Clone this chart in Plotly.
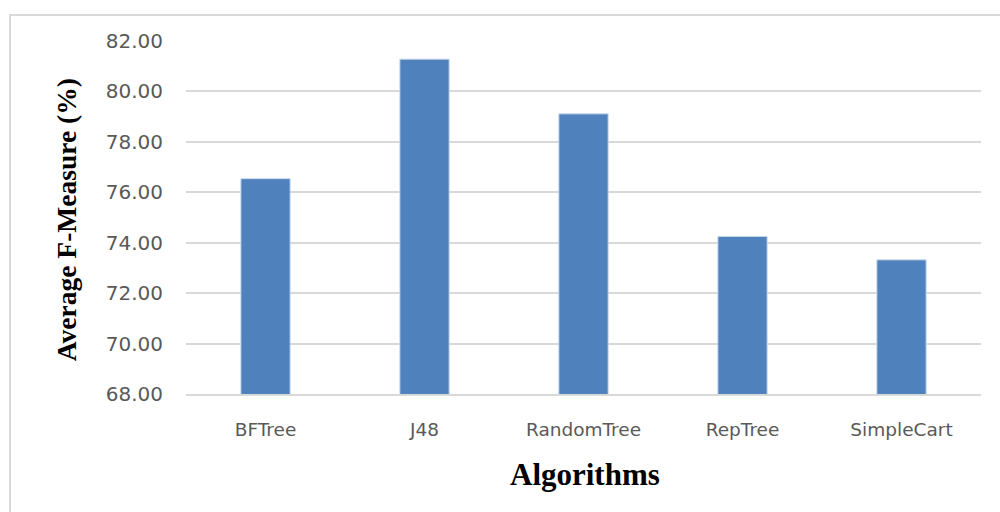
import plotly.graph_objects as go

# Average F-Measure per classification algorithm
algorithms = ["BFTree", "J48", "RandomTree", "RepTree", "SimpleCart"]
f_measure = [76.54, 81.28, 79.11, 74.25, 73.32]
y_ticks = [68, 70, 72, 74, 76, 78, 80, 82]

fig = go.Figure(
    go.Bar(
        x=algorithms,
        y=f_measure,
        marker=dict(color="#4f81bd", line=dict(color="#c9d8ec", width=1)),
        hovertemplate="%{x}: %{y:.2f}<extra></extra>",
    )
)

fig.update_layout(
    width=1000,
    height=512,
    margin=dict(l=186, r=19, t=41, b=118),
    paper_bgcolor="white",
    plot_bgcolor="white",
    bargap=0.69,
    showlegend=False,
    xaxis=dict(
        showgrid=False,
        showline=True,
        linecolor="#d9d9d9",
        linewidth=1.5,
        ticks="",
        ticklabelstandoff=18,
        tickfont=dict(family="DejaVu Sans", size=18.5, color="#595959"),
    ),
    yaxis=dict(
        range=[68, 82],
        tickvals=y_ticks,
        ticktext=[f"{v:.2f}" for v in y_ticks],
        showgrid=True,
        gridcolor="#d9d9d9",
        gridwidth=1.5,
        zeroline=False,
        showline=False,
        ticks="",
        ticklabelstandoff=22,
        tickfont=dict(family="DejaVu Sans", size=20, color="#595959"),
    ),
    annotations=[
        dict(
            text="<b>Algorithms</b>",
            xref="paper", yref="paper",
            x=0.502, y=-0.228,
            xanchor="center", yanchor="middle",
            showarrow=False,
            font=dict(family="Liberation Serif", size=31, color="black"),
        ),
        dict(
            text="<b>Average F-Measure (%)</b>",
            xref="paper", yref="paper",
            x=-0.151, y=0.495,
            xanchor="center", yanchor="middle",
            textangle=-90,
            showarrow=False,
            font=dict(family="Liberation Serif", size=27.5, color="black"),
        ),
    ],
    shapes=[
        dict(
            type="rect",
            xref="paper", yref="paper",
            x0=-0.2214, y0=-0.6, x1=1.2, y1=1.0737,
            line=dict(color="#d9d9d9", width=2),
            fillcolor="rgba(0,0,0,0)",
            layer="below",
        )
    ],
)

fig.write_html("out.html")
